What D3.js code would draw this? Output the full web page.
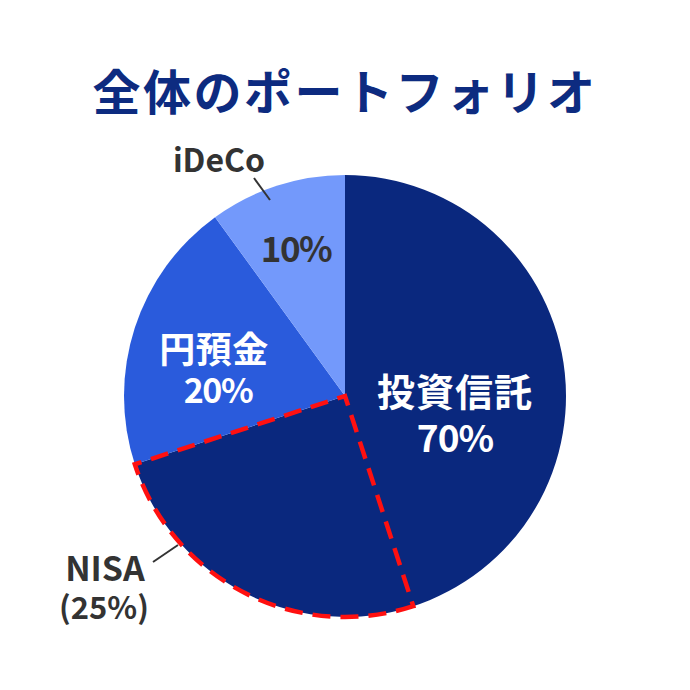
<!DOCTYPE html>
<html><head><meta charset="utf-8">
<script src="https://cdn.jsdelivr.net/npm/d3@7"></script>
<style>body{margin:0;background:#fff}svg{display:block}text{font-family:"Noto Sans CJK JP","Noto Sans",sans-serif;font-weight:700}</style>
</head><body>
<script>
const title = "全体のポートフォリオ";
const categories = ["投資信託", "円預金", "iDeCo"];
const values = [70, 20, 10];
const colors = ["#0a287e", "#2a5bdc", "#7399fb"];
const nisaLabel = "NISA";
const nisaValue = 25;

const W = 690, H = 690, cx = 345, cy = 396, R = 221;
const svg = d3.select("body").append("svg").attr("width", W).attr("height", H);

svg.append("text").attr("x", 345).attr("y", 110).attr("text-anchor", "middle")
  .attr("font-size", 48).attr("letter-spacing", 2.5).attr("fill", "#0d2b80").text(title);

const pie = d3.pie().sort(null).value(d => d);
const arcs = pie(values);
const arc = d3.arc().innerRadius(0).outerRadius(R);
const g = svg.append("g").attr("transform", `translate(${cx},${cy})`);
g.selectAll("path.slice").data(arcs).join("path").attr("class", "slice")
  .attr("d", arc).attr("fill", (d, i) => colors[i]);

// NISA dashed sector: ends at end-boundary of 投資信託
const total = d3.sum(values);
const endA = arcs[0].endAngle;
const startA = endA - nisaValue / total * 2 * Math.PI;
g.append("path").attr("d", d3.arc().innerRadius(0).outerRadius(R)({startAngle: startA, endAngle: endA}))
  .attr("fill", "none").attr("stroke", "#ff1010").attr("stroke-width", 4.5)
  .attr("stroke-dasharray", "18,10").attr("stroke-linejoin", "miter");

// labels
const lab = (x, y, t, size, fill, ls) => svg.append("text").attr("x", x).attr("y", y)
  .attr("text-anchor", "middle").attr("font-size", size).attr("fill", fill)
  .attr("letter-spacing", ls || 0).text(t);

lab(455, 406, categories[0], 38, "#fff", 1);
lab(455, 452, values[0] + "%", 37, "#fff", -1);
lab(214, 363, categories[1], 36, "#fff", 0.5);
lab(218, 403, values[1] + "%", 34, "#fff", -1.5);
lab(296, 262, values[2] + "%", 35, "#333", -1.5);
lab(219, 172, categories[2], 32, "#333", 0);
svg.append("line").attr("x1", 254).attr("y1", 178).attr("x2", 270).attr("y2", 200)
  .attr("stroke", "#333").attr("stroke-width", 2);
lab(105, 581, nisaLabel, 34, "#333", 0);
lab(104, 619, "(" + nisaValue + "%)", 31, "#333", 0);
svg.append("line").attr("x1", 153).attr("y1", 562).attr("x2", 178).attr("y2", 545)
  .attr("stroke", "#333").attr("stroke-width", 2);
</script>
</body></html>
